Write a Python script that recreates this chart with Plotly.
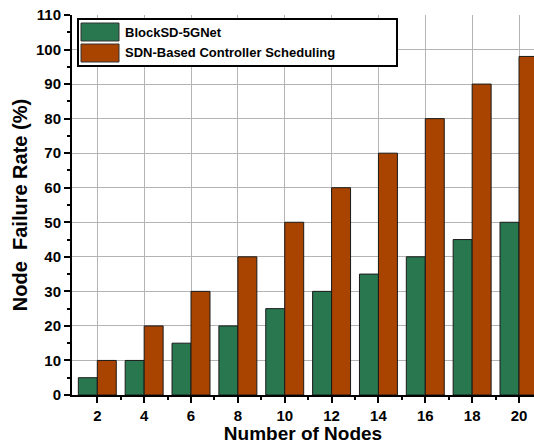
import plotly.graph_objects as go

nodes = [2, 4, 6, 8, 10, 12, 14, 16, 18, 20]
blocksd = [5, 10, 15, 20, 25, 30, 35, 40, 45, 50]
sdn = [10, 20, 30, 40, 50, 60, 70, 80, 90, 98]
series_names = ["BlockSD-5GNet", "SDN-Based Controller Scheduling"]
green = "#28774f"
orange = "#a84300"

W, H = 534, 444
ML, MR, MT, MB = 72, 0, 15, 49
PW, PH = W - ML - MR, H - MT - MB

def px(x):
    return (x - ML) / PW

def py(y):
    return (H - MB - y) / PH

FONT = "Liberation Sans, Arial, sans-serif"

fig = go.Figure()
fig.add_trace(go.Bar(x=nodes, y=blocksd, name=series_names[0],
                     marker=dict(color=green, line=dict(color="#1a1a1a", width=1))))
fig.add_trace(go.Bar(x=nodes, y=sdn, name=series_names[1],
                     marker=dict(color=orange, line=dict(color="#1a1a1a", width=1))))

# custom legend
shapes = [
    dict(type="rect", xref="paper", yref="paper", x0=px(78), x1=px(397), y0=py(66), y1=py(19),
         fillcolor="white", line=dict(color="black", width=2), layer="above"),
    dict(type="rect", xref="paper", yref="paper", x0=px(81), x1=px(119), y0=py(41), y1=py(23),
         fillcolor=green, line=dict(color="#333333", width=1), layer="above"),
    dict(type="rect", xref="paper", yref="paper", x0=px(81), x1=px(119), y0=py(62), y1=py(44),
         fillcolor=orange, line=dict(color="#333333", width=1), layer="above"),
]
annotations = [
    dict(xref="paper", yref="paper", x=px(123), y=py(32), text=series_names[0], showarrow=False,
         xanchor="left", yanchor="middle", font=dict(family=FONT, size=13, color="black", weight="bold")),
    dict(xref="paper", yref="paper", x=px(123), y=py(53), text=series_names[1], showarrow=False,
         xanchor="left", yanchor="middle", font=dict(family=FONT, size=13, color="black", weight="bold")),
]

fig.update_layout(
    width=W, height=H,
    margin=dict(l=ML, r=MR, t=MT, b=MB, autoexpand=False),
    paper_bgcolor="white", plot_bgcolor="white",
    barmode="group", bargap=0.19, bargroupgap=0,
    showlegend=False,
    shapes=shapes, annotations=annotations,
    font=dict(family=FONT, color="black"),
)
fig.update_xaxes(
    range=[0.92, 20.64], tickvals=nodes, ticktext=[str(n) for n in nodes],
    showgrid=True, gridcolor="#b4b4b4", gridwidth=1,
    showline=True, linecolor="black", linewidth=2,
    ticks="outside", ticklen=6, tickwidth=2, tickcolor="black",
    minor=dict(tickvals=[3, 5, 7, 9, 11, 13, 15, 17, 19], ticks="outside", ticklen=3, tickwidth=1.5, tickcolor="black", showgrid=False),
    tickfont=dict(family=FONT, size=15, weight="bold"),
    title=dict(text="Number of Nodes", font=dict(family=FONT, size=19, weight="bold"), standoff=4),
    zeroline=False, automargin=False,
)
fig.update_yaxes(
    range=[0, 110], dtick=10, tick0=0,
    showgrid=True, gridcolor="#b4b4b4", gridwidth=1,
    showline=True, linecolor="black", linewidth=2,
    ticks="outside", ticklen=6, tickwidth=2, tickcolor="black",
    minor=dict(dtick=5, ticks="outside", ticklen=3, tickwidth=1.5, tickcolor="black", showgrid=False),
    tickfont=dict(family=FONT, size=15, weight="bold"),
    title=dict(text="Node\u00a0\u00a0Failure Rate (%)", font=dict(family=FONT, size=20, weight="bold"), standoff=3),
    zeroline=False, automargin=False,
)

fig.write_html("out.html", config={"displayModeBar": False},
               post_script="document.body.style.margin='0';document.body.style.overflow='hidden';")
